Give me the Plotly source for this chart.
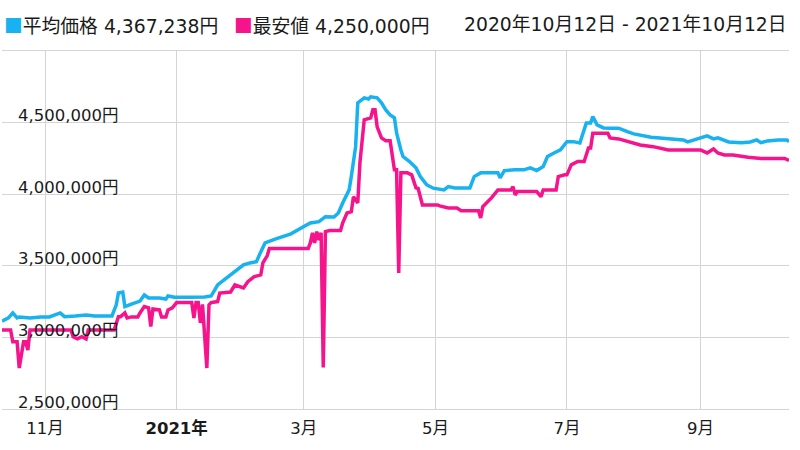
import pandas as pd
import plotly.graph_objects as go

# ---- data (prices in thousand yen, dates as day offsets from start) ----
start_date = "2020-10-12"
end_date = "2021-10-12"

avg_days = [0, 3, 5, 7, 8, 13, 18, 22, 27, 29, 34, 39, 43, 48, 51, 53, 54, 56, 57, 60,
            64, 66, 68, 73, 76, 77, 80, 87, 94, 97, 98, 100, 103, 106, 109, 112, 115, 118, 120, 122,
            127, 134, 140, 143, 147, 150, 154, 156, 158, 161, 162, 164, 165, 168, 170, 171, 174, 176, 178, 180,
            182, 183, 185, 186, 189, 192, 194, 197, 200, 205, 207, 210, 215, 217, 219, 222, 227, 230, 231, 233,
            238, 242, 245, 248, 251, 253, 256, 259, 262, 265, 268, 271, 273, 274, 276, 279, 282, 286, 290, 293,
            301, 309, 316, 318, 321, 324, 327, 330, 332, 337, 343, 347, 350, 352, 355, 360, 364, 365]
avg_values = [3114, 3136, 3171, 3136, 3143, 3136, 3143, 3143, 3171, 3145, 3150, 3157, 3150, 3153, 3150, 3227, 3310, 3317, 3215, 3233,
              3254, 3296, 3275, 3275, 3268, 3289, 3280, 3280, 3282, 3289, 3317, 3366, 3401, 3436, 3464, 3506, 3520, 3529, 3597, 3660,
              3688, 3723, 3774, 3799, 3808, 3843, 3841, 3869, 3939, 4030, 4123, 4332, 4638, 4673, 4665, 4680, 4673, 4638, 4589, 4554,
              4533, 4428, 4309, 4263, 4228, 4184, 4123, 4065, 4042, 4030, 4053, 4044, 4044, 4044, 4123, 4149, 4149, 4149, 4114, 4165,
              4170, 4170, 4184, 4165, 4193, 4263, 4288, 4309, 4367, 4367, 4358, 4498, 4498, 4542, 4484, 4463, 4461, 4461, 4437, 4421,
              4398, 4386, 4379, 4365, 4379, 4395, 4407, 4386, 4393, 4365, 4360, 4365, 4379, 4360, 4372, 4379, 4379, 4367]

min_days = [0, 4, 5, 7, 8, 10, 11, 12, 13, 32, 33, 35, 37, 39, 40, 52, 54, 55, 57, 58,
            60, 63, 64, 66, 68, 69, 70, 73, 74, 76, 77, 79, 81, 88, 89, 90, 91, 92, 93, 95,
            96, 97, 100, 101, 106, 108, 112, 114, 117, 120, 121, 123, 124, 142, 143, 144, 145, 146, 147, 148,
            149, 150, 152, 157, 158, 160, 162, 163, 165, 166, 168, 171, 172, 173, 174, 176, 178, 180, 182, 183,
            184, 185, 188, 190, 192, 193, 195, 202, 203, 207, 211, 213, 221, 222, 223, 227, 230, 236, 237, 238,
            239, 248, 250, 251, 257, 258, 261, 262, 264, 267, 270, 272, 273, 274, 281, 282, 286, 290, 296, 302,
            309, 324, 327, 330, 332, 335, 339, 346, 352, 363, 365]
min_values = [3052, 3052, 2970, 2970, 2786, 2970, 2970, 2912, 3052, 3052, 3005, 2990, 3005, 2990, 3052, 3052, 3145, 3145, 3171, 3136,
              3143, 3143, 3171, 3215, 3206, 3075, 3199, 3192, 3143, 3143, 3192, 3206, 3243, 3243, 3136, 3243, 3243, 3101, 3230, 2786,
              3227, 3243, 3250, 3310, 3317, 3366, 3345, 3389, 3424, 3436, 3520, 3570, 3620, 3620, 3660, 3730, 3660, 3739, 3680, 3730,
              2790, 3739, 3746, 3746, 3799, 3869, 3878, 3983, 3939, 4219, 4519, 4533, 4589, 4589, 4470, 4393, 4374, 4374, 4170, 4170,
              3450, 4149, 4149, 4135, 4044, 4040, 3925, 3925, 3918, 3904, 3904, 3885, 3885, 3834, 3913, 3974, 4030, 4030, 4053, 3995,
              4018, 4018, 3983, 4030, 4030, 4123, 4135, 4135, 4205, 4228, 4228, 4323, 4323, 4426, 4426, 4393, 4386, 4367, 4344, 4332,
              4309, 4309, 4288, 4316, 4288, 4274, 4274, 4258, 4250, 4250, 4236]

y_tick_values = [2500, 3000, 3500, 4000, 4500, 5000]
y_tick_labels = ["2,500,000円", "3,000,000円", "3,500,000円", "4,000,000円", "4,500,000円", ""]
x_tick_dates = ["2020-11-01", "2021-01-01", "2021-03-01", "2021-05-01", "2021-07-01", "2021-09-01"]
x_tick_labels = ["11月", "<b>2021年</b>", "3月", "5月", "7月", "9月"]

legend_avg = "平均価格 4,367,238円"
legend_min = "最安値 4,250,000円"
period_label = "2020年10月12日 - 2021年10月12日"

BLUE = "#17B2EF"
PINK = "#F5148C"
GRID = "#d4d4d4"
TEXT = "#1a1a1a"
FONT = "DejaVu Sans, Noto Sans CJK JP"
CJK = "Noto Sans CJK JP"

ML, MR, MT, MB = 2, 11, 51, 41
W, H = 800, 450
plot_w = W - ML - MR
plot_h = H - MT - MB

start = pd.Timestamp(start_date)
avg_dates = [start + pd.Timedelta(days=d) for d in avg_days]
min_dates = [start + pd.Timedelta(days=d) for d in min_days]

fig = go.Figure()
fig.add_trace(go.Scatter(x=avg_dates, y=avg_values, mode="lines",
                         line=dict(color=BLUE, width=3.5), name=legend_avg))
fig.add_trace(go.Scatter(x=min_dates, y=min_values, mode="lines",
                         line=dict(color=PINK, width=3.5), name=legend_min))

fig.update_layout(
    width=W, height=H,
    margin=dict(l=ML, r=MR, t=MT, b=MB, autoexpand=False),
    paper_bgcolor="white", plot_bgcolor="white",
    showlegend=False,
    font=dict(family=FONT, size=16.5, color=TEXT),
)
fig.update_xaxes(
    type="date", range=[start_date, end_date],
    tickvals=x_tick_dates, ticktext=x_tick_labels,
    showgrid=True, gridcolor=GRID, gridwidth=1,
    zeroline=False, showline=True, mirror=True, linecolor=GRID, linewidth=1,
    ticks="", automargin=False, ticklabelstandoff=4,
    tickfont=dict(family=FONT, size=16.5, color=TEXT),
)
fig.update_yaxes(
    range=[2500, 5000],
    tickvals=y_tick_values, showticklabels=False,
    showgrid=True, gridcolor=GRID, gridwidth=1,
    zeroline=False, showline=False, ticks="", automargin=False,
)

# y tick labels, sitting just above each grid line inside the plot
for v, lab in zip(y_tick_values, y_tick_labels):
    if lab:
        fig.add_annotation(xref="paper", yref="y", x=(17 - ML) / plot_w, y=v,
                           xanchor="left", yanchor="middle", yshift=7, showarrow=False,
                           text=lab, borderpad=0,
                           font=dict(family=FONT, size=16.5, color=TEXT))

ypos = 1 + (MT - 24) / plot_h
fig.add_annotation(xref="paper", yref="paper", x=(3 - ML) / plot_w, y=ypos,
                   xanchor="left", yanchor="middle", showarrow=False, borderpad=0,
                   text=f"<span style='font-family:{CJK};color:{BLUE}'>■</span>{legend_avg}",
                   font=dict(size=18.8, family=FONT, color=TEXT))
fig.add_annotation(xref="paper", yref="paper", x=(233 - ML) / plot_w, y=ypos,
                   xanchor="left", yanchor="middle", showarrow=False, borderpad=0,
                   text=f"<span style='font-family:{CJK};color:{PINK}'>■</span>{legend_min}",
                   font=dict(size=18.8, family=FONT, color=TEXT))
fig.add_annotation(xref="paper", yref="paper", x=(788 - ML) / plot_w, y=ypos,
                   xanchor="right", yanchor="middle", showarrow=False, borderpad=0,
                   text=period_label,
                   font=dict(size=18.8, family=FONT, color=TEXT))

fig.write_html("out.html", config={"displayModeBar": False},
               post_script="document.body.style.margin='0';")
